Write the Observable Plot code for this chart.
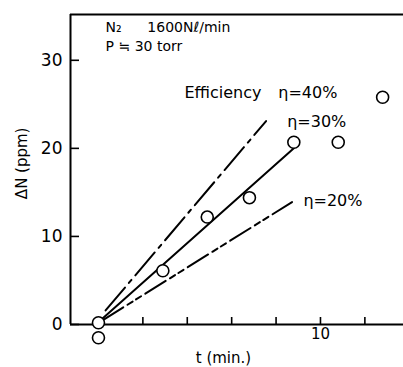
<!DOCTYPE html>
<html><head><meta charset="utf-8">
<script src="https://cdn.jsdelivr.net/npm/d3@7"></script>
<script src="https://cdn.jsdelivr.net/npm/@observablehq/plot@0.6"></script>
<style>body{margin:0;background:#fff}</style>
</head><body><div id="chart"></div>
<script>
// measured points: time (min) and ΔN (ppm)
const pointT  = [0, 0, 2.9, 4.9, 6.8, 8.8, 10.8, 12.8];
const pointDN = [0.2, -1.5, 6.1, 12.2, 14.4, 20.7, 20.7, 25.8];
// efficiency lines (endpoints)
const lineNames = ["η=40%", "η=30%", "η=20%"];
const lineT  = [[0.32, 7.55], [0.17, 8.8], [0.2, 8.72]];
const lineDN = [[1.6, 23.1], [0.65, 20.0], [0.5, 13.9]];
// axes
const xTicks = [2, 4, 6, 8, 10, 12];
const xTickLabels = [10];
const yTicks = [0, 10, 20, 30];
const xDomain = [-1.26, 13.74];
const yDomain = [0, 35.2];
// annotations (data coordinates)
const headText = ["N₂", "1600Nℓ/min", "P ≒ 30 torr"];
const headT  = [0.32, 2.2, 0.32];
const headDN = [33.75, 33.75, 31.55];
const effText = ["Efficiency"];
const effT = [3.87];
const effDN = [26.3];
const etaText = ["η=40%", "η=30%", "η=20%"];
const etaT  = [8.1, 8.5, 9.23];
const etaDN = [26.3, 23.0, 14.0];
const xLabel = "t (min.)", xLabelT = 5.63, xLabelDN = -3.86;
const yLabel = "ΔN (ppm)", yLabelT = -3.42, yLabelDN = 18.3;

const points = pointT.map((t, i) => ({t, dn: pointDN[i]}));
const lines = lineNames.flatMap((name, i) => lineT[i].map((t, j) => ({name, t, dn: lineDN[i][j]})));
const head = headText.map((s, i) => ({s, t: headT[i], dn: headDN[i]}));
const eff = effText.map((s, i) => ({s, t: effT[i], dn: effDN[i]}));
const eta = etaText.map((s, i) => ({s, t: etaT[i], dn: etaDN[i]}));

const W = 403, H = 367, mL = 70, mT = 14, mR = 0, mB = 43;
const innerW = W - mL - mR, innerH = H - mT - mB;
const dashes = {"η=40%": "30,6,4,6", "η=30%": null, "η=20%": "24,5,6,4,6,5"};

const chart = Plot.plot({
  width: W, height: H,
  marginLeft: mL, marginTop: mT, marginRight: mR, marginBottom: mB,
  style: {fontFamily: "DejaVu Sans", fontSize: "15px", color: "#000", background: "#fff"},
  x: {domain: xDomain},
  y: {domain: yDomain},
  marks: [
    Plot.ruleX([xDomain[0]], {stroke: "#000", strokeWidth: 2}),
    Plot.ruleY([yDomain[0]], {stroke: "#000", strokeWidth: 2}),
    Plot.ruleY([yDomain[1]], {stroke: "#000", strokeWidth: 2}),
    Plot.ruleY(yTicks, {y: d => d, stroke: "#000", strokeWidth: 1.6, insetRight: innerW - 9}),
    Plot.ruleX(xTicks, {x: d => d, stroke: "#000", strokeWidth: 1.6, insetTop: innerH - 7}),
    Plot.axisY(yTicks, {tickSize: 0, tickPadding: 8, fontSize: 17, label: null}),
    Plot.axisX(xTickLabels, {tickSize: 0, tickPadding: 4, fontSize: 15, label: null}),
    ...lineNames.map(n => Plot.line(lines.filter(d => d.name === n), {
      x: "t", y: "dn", stroke: "#000", strokeWidth: 2, strokeDasharray: dashes[n], clip: false
    })),
    Plot.dot(points, {x: "t", y: "dn", r: 6, stroke: "#000", fill: "#fff", strokeWidth: 1.6}),
    Plot.text(head, {x: "t", y: "dn", text: "s", textAnchor: "start", fontSize: 14, letterSpacing: 2.3}),
    Plot.text(eff, {x: "t", y: "dn", text: "s", textAnchor: "start", fontSize: 16, letterSpacing: 0.7}),
    Plot.text(eta, {x: "t", y: "dn", text: "s", textAnchor: "start", fontSize: 16, letterSpacing: 2.5}),
    Plot.text([xLabel], {x: () => xLabelT, y: () => xLabelDN, text: d => d, fontSize: 15, letterSpacing: 1.2}),
    Plot.text([yLabel], {x: () => yLabelT, y: () => yLabelDN, text: d => d, rotate: -90, fontSize: 15, letterSpacing: 1.2})
  ]
});
document.getElementById("chart").appendChild(chart);
</script>
</body></html>
